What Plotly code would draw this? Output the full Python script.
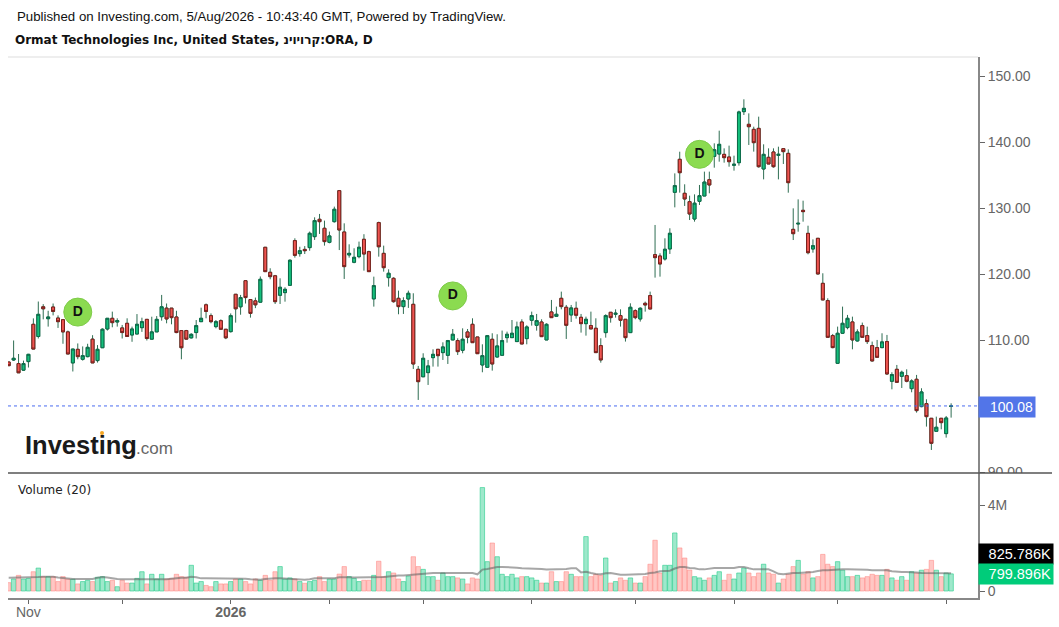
import plotly.graph_objs as go

W = 1059
H = 627

opens = [
    106.74, 107.04, 106.5, 105.5, 106.8, 112.45, 110.6, 115.1, 113.3, 115.07,
    113.4, 113.15, 111.3, 106.6, 108.66, 107.15, 107.55, 110.2, 106.95, 108.9,
    111.74, 113.36, 112.8, 111.9, 112.6, 110.83, 110.98, 111.94, 113.2, 110.2,
    111.3, 113.6, 114.9, 114.9, 113.56, 111.5, 111.5, 110.4, 111.2, 112.85,
    115.4, 113.76, 112.1, 113.0, 111.7, 111.34, 117.0, 115.1, 119.06, 116.2,
    116.0, 115.8, 124.12, 120.33, 119.8, 116.85, 117.25, 118.36, 125.13, 123.16,
    123.8, 124.07, 125.73, 128.36, 127.0, 124.87, 128.0, 132.7, 126.44, 122.96,
    121.85, 122.7, 125.33, 123.46, 116.3, 127.86, 123.2, 119.52, 119.42, 116.39,
    115.13, 116.29, 115.48, 105.63, 104.5, 105.13, 107.4, 108.66, 108.16, 107.75,
    110.08, 109.98, 108.51, 111.29, 112.45, 110.53, 106.29, 105.94, 110.18, 107.5,
    107.76, 110.43, 110.43, 109.83, 112.8, 110.28, 113.06, 112.3, 112.8, 110.08,
    114.32, 113.66, 116.39, 115.03, 113.87, 114.88, 113.51, 112.55, 112.25, 111.85,
    109.22, 111.19, 114.27, 113.97, 113.77, 113.21, 111.19, 114.52, 113.26, 115.63,
    116.8, 123.0, 122.8, 122.35, 123.87, 132.45, 137.45, 132.3, 131.03, 128.4,
    131.08, 131.89, 134.36, 137.9, 138.25, 138.2, 137.8, 136.54, 136.94, 144.67,
    142.75, 141.99, 142.14, 135.98, 137.75, 138.56, 138.05, 139.06, 138.35, 126.84,
    127.65, 129.72, 126.23, 123.86, 125.48, 118.66, 116.04, 110.74, 106.54, 111.09,
    111.95, 112.81, 109.93, 112.25, 110.74, 109.22, 108.92, 108.92, 109.83, 103.82,
    105.63, 104.57, 104.67, 102.7, 104.12, 99.98, 100.43, 98.21, 96.24, 98.21,
    95.89, 100.0,
]
closes = [
    106.18, 107.3, 105.1, 106.5, 107.9, 108.7, 113.96, 114.8, 113.56, 114.4,
    112.85, 111.3, 107.95, 108.7, 107.55, 107.7, 108.96, 106.6, 108.66, 111.7,
    113.36, 112.7, 113.0, 111.2, 110.6, 111.74, 112.45, 112.85, 110.3, 111.3,
    113.2, 115.1, 113.26, 113.46, 111.2, 108.9, 110.2, 110.93, 112.25, 113.36,
    114.4, 112.85, 112.85, 111.7, 110.4, 113.76, 114.8, 116.5, 116.5, 114.1,
    115.4, 119.27, 120.43, 119.67, 115.88, 118.06, 117.75, 122.15, 122.9, 123.6,
    123.6, 126.24, 128.16, 128.0, 124.98, 125.84, 129.88, 126.74, 121.19, 123.2,
    122.6, 124.12, 123.1, 120.43, 118.31, 124.2, 121.03, 120.18, 115.88, 115.13,
    116.04, 117.15, 106.44, 103.76, 107.3, 106.14, 107.9, 107.7, 109.02, 109.98,
    110.94, 108.31, 110.18, 110.48, 109.67, 108.0, 107.7, 110.73, 106.44, 109.17,
    109.98, 110.94, 111.09, 112.05, 109.47, 112.05, 113.77, 113.01, 110.58, 112.45,
    113.46, 113.97, 115.13, 112.3, 114.93, 113.82, 112.55, 113.21, 111.75, 108.16,
    107.05, 113.77, 113.46, 114.12, 113.06, 110.43, 115.03, 113.46, 114.88, 115.38,
    114.77, 122.55, 121.59, 123.82, 126.24, 133.46, 135.42, 131.44, 129.16, 130.8,
    131.94, 134.0, 133.56, 138.9, 139.72, 137.7, 137.09, 136.69, 144.62, 145.17,
    142.39, 139.97, 136.33, 138.2, 136.74, 136.33, 138.2, 138.61, 133.91, 126.18,
    127.75, 129.52, 123.3, 124.36, 120.08, 116.14, 110.48, 108.92, 111.09, 112.6,
    113.36, 110.08, 111.29, 110.48, 109.83, 106.9, 107.45, 109.78, 104.93, 104.83,
    103.66, 105.18, 103.82, 103.87, 99.37, 102.2, 98.46, 94.42, 96.85, 97.55,
    98.26, 100.08,
]
highs = [
    106.74, 110.0, 107.95, 106.95, 107.97, 113.35, 115.9, 115.5, 114.5, 115.6,
    113.8, 113.15, 111.5, 108.7, 109.55, 109.1, 109.5, 110.8, 109.3, 111.84,
    113.36, 114.37, 113.36, 112.35, 113.36, 112.1, 114.0, 113.45, 113.2, 113.6,
    113.7, 116.9, 115.6, 114.9, 114.5, 111.5, 111.6, 111.1, 113.1, 114.97,
    115.6, 114.1, 113.1, 113.2, 111.7, 114.1, 117.0, 116.9, 119.06, 116.2,
    116.5, 119.7, 124.12, 120.94, 119.93, 119.42, 118.06, 122.3, 125.48, 124.2,
    124.3, 126.5, 128.66, 129.17, 128.16, 126.5, 130.28, 132.8, 127.75, 124.57,
    123.97, 124.98, 126.1, 123.6, 119.67, 128.0, 124.37, 120.78, 119.57, 117.55,
    116.54, 117.55, 117.15, 106.14, 108.06, 107.05, 108.66, 108.66, 109.72, 110.08,
    111.74, 110.33, 111.84, 111.74, 113.36, 110.53, 109.42, 110.83, 111.09, 110.94,
    111.5, 111.34, 113.1, 112.86, 113.21, 112.3, 114.37, 114.02, 113.21, 112.6,
    116.14, 115.13, 117.4, 115.38, 115.38, 115.89, 114.02, 113.61, 114.37, 113.36,
    110.33, 113.97, 114.27, 114.72, 114.72, 113.21, 115.63, 114.72, 115.03, 115.89,
    117.4, 127.5, 123.21, 125.48, 127.0, 135.32, 138.6, 133.66, 131.94, 132.14,
    133.56, 135.58, 135.58, 139.87, 141.79, 139.11, 139.52, 138.0, 144.82, 146.54,
    144.41, 142.39, 143.91, 139.72, 139.11, 139.11, 139.36, 139.11, 138.96, 130.02,
    131.38, 131.18, 127.39, 125.32, 125.48, 120.18, 116.39, 110.99, 112.1, 115.13,
    113.87, 113.61, 111.69, 112.71, 112.1, 109.83, 110.08, 111.09, 110.84, 105.18,
    106.29, 105.43, 105.63, 104.12, 104.78, 102.76, 101.09, 98.21, 98.46, 98.21,
    98.56, 100.48,
]
lows = [
    106.18, 106.9, 105.1, 105.4, 105.9, 108.7, 110.3, 113.2, 112.1, 113.8,
    111.9, 109.5, 107.95, 105.3, 107.15, 106.95, 107.45, 106.6, 106.65, 108.9,
    111.5, 112.0, 112.1, 110.3, 110.6, 109.8, 111.0, 111.3, 110.0, 110.2,
    111.3, 113.0, 112.6, 112.45, 111.1, 107.15, 110.2, 110.3, 110.3, 112.85,
    113.36, 112.6, 111.84, 111.7, 110.2, 111.2, 112.7, 113.9, 115.6, 113.46,
    114.9, 115.8, 120.43, 119.27, 115.53, 115.53, 115.88, 118.36, 122.55, 122.7,
    123.1, 123.6, 125.23, 126.14, 124.37, 124.72, 127.86, 123.7, 119.32, 122.55,
    121.7, 122.45, 120.58, 120.43, 115.13, 122.7, 120.43, 118.16, 115.73, 113.97,
    114.02, 114.93, 105.68, 100.99, 104.5, 103.26, 106.04, 106.04, 107.05, 106.44,
    110.08, 107.8, 108.06, 109.57, 109.67, 108.0, 105.18, 105.94, 105.43, 107.4,
    107.76, 109.67, 110.43, 109.83, 109.47, 109.42, 112.25, 111.49, 110.58, 110.08,
    113.46, 113.66, 114.72, 110.23, 112.8, 113.31, 111.19, 110.73, 111.75, 108.16,
    106.64, 110.43, 112.7, 113.46, 112.1, 109.83, 111.19, 113.21, 112.86, 114.37,
    114.77, 119.52, 119.67, 122.1, 123.11, 130.17, 132.4, 130.38, 128.25, 128.0,
    130.53, 131.89, 132.3, 136.18, 137.09, 136.94, 136.33, 135.73, 136.49, 144.16,
    139.62, 138.61, 136.18, 134.41, 136.74, 136.18, 134.41, 136.74, 132.39, 125.22,
    126.48, 128.0, 123.05, 123.3, 119.98, 116.14, 110.48, 108.82, 106.44, 110.99,
    111.69, 108.66, 109.83, 110.48, 109.47, 106.8, 107.45, 108.82, 104.78, 102.6,
    103.66, 102.8, 103.66, 102.15, 99.07, 99.88, 96.95, 93.41, 96.19, 96.54,
    95.28, 98.31,
]
# volume in millions
volumes = [
    .39, .56, .73, .56, .59, .90, 1.07, .67, .67, .67,
    .44, .67, .56, .55, .33, .44, .50, .44, .64, .67,
    .44, .50, .20, .50, .37, .37, .59, .90, .33, .78,
    .56, .78, .56, .59, .78, .67, .64, 1.20, .37, .44,
    .26, .20, .44, .33, .33, .44, .56, .56, .44, .33,
    .56, .50, .73, .50, .90, 1.14, .56, .61, .56, .44,
    .36, .44, .50, .67, .44, .56, .56, .79, 1.14, .67,
    .59, .44, .50, .50, .73, 1.39, .67, .90, .84, .56,
    .44, .70, 1.60, 1.14, 1.01, .67, .67, .50, .84, .67,
    .67, .61, .56, .33, .61, .56, 4.83, 1.37, 2.24, 1.60,
    .78, .67, .78, .61, .67, .67, .61, .50, .37, .37,
    .90, .44, .44, .90, .78, .67, .67, 2.54, .67, .78,
    .73, 1.54, .37, .44, .61, .50, .61, .37, .37, .67,
    1.25, 2.37, .84, 1.20, 1.20, 2.71, 2.01, 1.54, .98, .67,
    .61, .50, .61, .73, .90, .50, .78, .56, .84, 1.07,
    .84, .67, .84, 1.25, .84, .78, .37, .56, .78, 1.14,
    1.43, .79, .90, .61, .67, 1.71, 1.25, 1.14, 1.37, .97,
    .67, .67, .73, .61, .67, .78, .73, .73, 1.01, .61,
    .50, .67, .50, .90, .84, .97, 1.01, 1.43, .97, .67,
    .84, .80,
]
volume_ma = [
    .62, .62, .62, .62, .62, .62, .65, .67, .67, .67,
    .63, .60, .58, .56, .56, .56, .56, .56, .62, .65,
    .63, .58, .56, .55, .55, .55, .53, .55, .55, .55,
    .55, .55, .55, .57, .60, .62, .62, .67, .64, .59,
    .59, .59, .59, .59, .59, .59, .59, .59, .57, .55,
    .53, .53, .56, .59, .59, .59, .58, .55, .53, .53,
    .53, .55, .59, .59, .59, .59, .60, .64, .65, .64,
    .63, .63, .63, .63, .64, .64, .65, .68, .71, .72,
    .72, .74, .78, .79, .82, .84, .84, .84, .84, .84,
    .84, .84, .84, .84, .84, .78, 1.0, 1.03, 1.07, 1.12,
    1.12, 1.12, 1.12, 1.09, 1.06, 1.06, 1.06, 1.06, 1.03, 1.0,
    1.0, 1.0, 1.0, 1.03, 1.06, 1.06, .87, .90, .84, .79,
    .78, .83, .84, .79, .76, .76, .76, .76, .76, .79,
    .84, .86, .92, .95, .95, 1.05, 1.12, 1.12, 1.07, 1.06,
    1.01, 1.01, 1.05, 1.07, 1.07, 1.07, 1.07, 1.07, 1.12, 1.12,
    1.06, 1.01, 1.01, 1.01, 1.01, .92, .80, .78, .82, .84,
    .84, .85, .89, .89, .93, .97, .97, .99, 1.01, 1.01,
    1.01, 1.01, 1.01, 1.01, .99, .97, .97, .97, .97, .92,
    .89, .89, .89, .89, .86, .84, .84, .84, .84, .83,
    .83, .83,
]

div_x = [14, 90, 140]
div_y = [114.3, 116.75, 138.2]

x_tickvals = [4, 23, 45, 65, 84, 106, 127, 147, 168, 190]
x_ticktext = ["Nov", "", "<b>2026</b>", "", "", "", "", "", "", ""]
price_ticks = [90, 100, 110, 120, 130, 140, 150]
# 100.00 sits behind the blue last price tag in the original
price_ticktext = ["90.00", "", "110.00", "120.00", "130.00", "140.00", "150.00"]
vol_ticks = [0, 2, 4]
# 2M sits behind the black volume tag in the original
vol_ticktext = ["0", "", "4M"]

last_price = 100.08

GREEN = "#14c07c"
RED = "#ee5550"
WICK = "#2f6e53"
FONT = "Liberation Sans"
TICK_COLOR = "#666666"


def px(x):
    return x / W


def py(y):
    return 1 - y / H


days = list(range(len(closes)))
body_tops = [max(o, c) for o, c in zip(opens, closes)]
body_bottoms = [min(o, c) for o, c in zip(opens, closes)]

# wicks are the same dark green on both colours, bodies go on top
wicks = go.Candlestick(
    x=days, open=opens, high=highs, low=lows, close=closes,
    increasing=dict(line=dict(color=WICK, width=1), fillcolor=WICK),
    decreasing=dict(line=dict(color=WICK, width=1), fillcolor=WICK),
    whiskerwidth=0, name="wicks", hoverinfo="skip",
)
bodies = go.Candlestick(
    x=days, open=opens, high=body_tops, low=body_bottoms, close=closes,
    increasing=dict(line=dict(color="#0d6b4a", width=1), fillcolor=GREEN),
    decreasing=dict(line=dict(color="#7d1f1c", width=1), fillcolor=RED),
    whiskerwidth=0, name="ORA",
)
badges = go.Scatter(
    x=div_x, y=div_y, mode="markers+text", text=["<b>D</b>", "<b>D</b>", "<b>D</b>"],
    textposition="middle center",
    textfont=dict(family=FONT, size=14, color="#111111"),
    marker=dict(size=28, color="#8bdb50", line=dict(color="#7fcb4a", width=1)),
    name="Dividends",
)
vol_colors = ["rgba(40,205,140,0.45)" if c >= o else "rgba(255,130,125,0.45)"
              for o, c in zip(opens, closes)]
vol_lines = ["rgba(40,205,140,0.6)" if c >= o else "rgba(255,130,125,0.5)"
             for o, c in zip(opens, closes)]
vol_bars = go.Bar(
    x=days, y=volumes, yaxis="y2", width=0.9,
    marker=dict(color=vol_colors, line=dict(color=vol_lines, width=1)),
    name="Volume",
)
vol_line = go.Scatter(
    x=days, y=volume_ma, yaxis="y2", mode="lines",
    line=dict(color="rgba(95,95,95,0.55)", width=2),
    name="Volume MA",
)

shapes = [
    # hides the bottom half of the 90.00 label, like the pane edge does
    dict(type="rect", xref="paper", yref="paper", x0=px(984), x1=1, y0=py(483), y1=py(473),
         fillcolor="white", line=dict(width=0), layer="above"),
    dict(type="line", xref="paper", yref="paper", x0=px(8), x1=px(978), y0=py(57), y1=py(57),
         line=dict(color="#dddddd", width=1)),
    dict(type="line", xref="paper", yref="paper", x0=px(8), x1=px(1052), y0=py(473), y1=py(473),
         line=dict(color="#555555", width=1.5), layer="above"),
    dict(type="line", xref="x", yref="y", x0=-0.14, x1=196.45, y0=last_price, y1=last_price,
         line=dict(color="#4a6cf0", width=1, dash="dot")),
    dict(type="circle", xref="paper", yref="paper", x0=px(100), x1=px(104), y0=py(435), y1=py(431),
         fillcolor="#f5a623", line=dict(width=0), layer="above"),
]


def tag(text, x, y, w, color, size=14):
    return dict(text=text, xref="paper", yref="paper", x=px(x), y=py(y), xanchor="left",
                yanchor="middle", width=w, height=16, borderpad=2, bgcolor=color, showarrow=False,
                align="right", font=dict(family=FONT, size=size, color="white"))


def label(text, x, y, size, color="#111111", family=FONT):
    return dict(text=text, xref="paper", yref="paper", x=px(x), y=py(y), xanchor="left",
                yanchor="middle", showarrow=False, font=dict(family=family, size=size, color=color))


annotations = [
    label("Published on Investing.com, 5/Aug/2026 - 10:43:40 GMT, Powered by TradingView.", 14.5, 17, 13.25),
    label("<b>Ormat Technologies Inc, United States, קרויוינ:ORA, D</b>", 13, 40, 12, family="DejaVu Sans"),
    label("Volume (20)", 16, 490, 12, color="#222222", family="DejaVu Sans"),
    label("<b>Investing</b>", 23, 445, 25.5, color="#1a1a1a"),
    label(".com", 134, 448, 17, color="#666666"),
    tag("100.08", 978, 406.5, 52, "#5275e8"),
    tag("825.786K", 978, 554, 70, "#000000", 14.5),
    tag("799.896K", 978, 574, 70, "#00cc7a", 14.5),
]

layout = go.Layout(
    width=W, height=H,
    margin=dict(l=0, r=0, t=0, b=0),
    paper_bgcolor="white", plot_bgcolor="white",
    showlegend=False, hovermode=False,
    barmode="overlay", boxgap=0.15,
    xaxis=dict(
        domain=[px(8), px(978)], range=[-0.14, 196.45], anchor="y2", automargin=False,
        rangeslider=dict(visible=False), showgrid=False, zeroline=False,
        showline=True, linecolor="#888888", linewidth=2,
        ticks="outside", ticklen=4, tickcolor="#666666", ticklabelstandoff=-4,
        tickmode="array", tickvals=x_tickvals, ticktext=x_ticktext,
        tickfont=dict(family=FONT, size=14, color=TICK_COLOR),
    ),
    yaxis=dict(
        domain=[py(473), py(57)], range=[89.92, 152.95], anchor="x", side="right", automargin=False,
        showgrid=False, zeroline=False, showline=True, linecolor="#888888", linewidth=2,
        ticks="outside", ticklen=5, tickcolor="#666666",
        tickmode="array", tickvals=price_ticks, ticktext=price_ticktext,
        tickfont=dict(family=FONT, size=14, color=TICK_COLOR),
    ),
    yaxis2=dict(
        domain=[py(598), py(473)], range=[-0.327, 5.51], anchor="x", side="right", automargin=False,
        showgrid=False, zeroline=False, showline=True, linecolor="#888888", linewidth=2,
        ticks="outside", ticklen=5, tickcolor="#666666",
        tickmode="array", tickvals=vol_ticks, ticktext=vol_ticktext,
        tickfont=dict(family=FONT, size=14, color=TICK_COLOR),
    ),
    shapes=shapes,
    annotations=annotations,
)

fig = go.Figure(data=[vol_bars, vol_line, wicks, bodies, badges], layout=layout)
fig.write_html("out.html", config={"displayModeBar": False},
               post_script="document.body.style.margin='0';document.body.style.overflow='hidden';")
